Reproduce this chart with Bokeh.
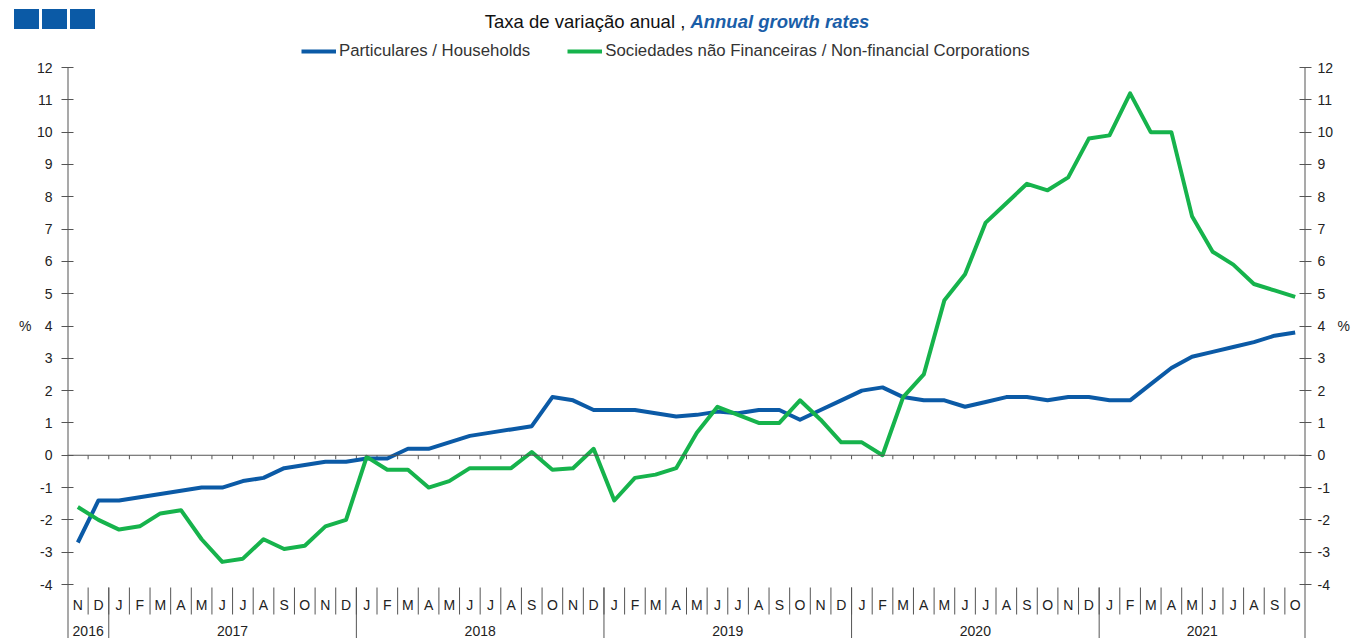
from bokeh.plotting import figure
from bokeh.models import (Range1d, LinearAxis, FixedTicker, Span, Legend, LegendItem,
                          ColumnDataSource, Div)
from bokeh.layouts import column
from bokeh.core.properties import value
from bokeh.embed import file_html
from bokeh.resources import INLINE

# ---------------- data ----------------
year_labels = ["2016", "2017", "2018", "2019", "2020", "2021"]
year_months = [
    ["N", "D"],
    ["J", "F", "M", "A", "M", "J", "J", "A", "S", "O", "N", "D"],
    ["J", "F", "M", "A", "M", "J", "J", "A", "S", "O", "N", "D"],
    ["J", "F", "M", "A", "M", "J", "J", "A", "S", "O", "N", "D"],
    ["J", "F", "M", "A", "M", "J", "J", "A", "S", "O", "N", "D"],
    ["J", "F", "M", "A", "M", "J", "J", "A", "S", "O"],
]
households = [
    -2.7, -1.4,
    -1.4, -1.3, -1.2, -1.1, -1.0, -1.0, -0.8, -0.7, -0.4, -0.3, -0.2, -0.2,
    -0.1, -0.1, 0.2, 0.2, 0.4, 0.6, 0.7, 0.8, 0.9, 1.8, 1.7, 1.4,
    1.4, 1.4, 1.3, 1.2, 1.25, 1.35, 1.3, 1.4, 1.4, 1.1, 1.4, 1.7,
    2.0, 2.1, 1.8, 1.7, 1.7, 1.5, 1.65, 1.8, 1.8, 1.7, 1.8, 1.8,
    1.7, 1.7, 2.2, 2.7, 3.05, 3.2, 3.35, 3.5, 3.7, 3.8,
]
corporations = [
    -1.6, -2.0,
    -2.3, -2.2, -1.8, -1.7, -2.6, -3.3, -3.2, -2.6, -2.9, -2.8, -2.2, -2.0,
    -0.05, -0.45, -0.45, -1.0, -0.8, -0.4, -0.4, -0.4, 0.1, -0.45, -0.4, 0.2,
    -1.4, -0.7, -0.6, -0.4, 0.7, 1.5, 1.25, 1.0, 1.0, 1.7, 1.1, 0.4,
    0.4, 0.0, 1.8, 2.5, 4.8, 5.6, 7.2, 7.8, 8.4, 8.2, 8.6, 9.8,
    9.9, 11.2, 10.0, 10.0, 7.4, 6.3, 5.9, 5.3, 5.1, 4.9,
]
y_ticks = list(range(-4, 13))
y_unit_label = "%"
y_unit_at = 4
series_names = ["Particulares / Households",
                "Sociedades não Financeiras / Non-financial Corporations"]

# ---------------- derived positions ----------------
month_letters = [m for ms in year_months for m in ms]
n = len(month_letters)
xs = list(range(n))
month_bounds = [i - 0.5 for i in range(n + 1)]
year_bounds = [-0.5]
year_centers = []
start = 0
for ms in year_months:
    end = start + len(ms)
    year_centers.append((start + end - 1) / 2)
    year_bounds.append(end - 0.5)
    start = end

Y_MIN, Y_MAX = min(y_ticks), max(y_ticks)
PX = (584 - 67) / (Y_MAX - Y_MIN)           # pixels per unit
Y_TOP = Y_MAX + 29 / PX                      # room for legend
Y_BOT = Y_MIN - 54 / PX                      # room for month / year rows
MONTH_Y = Y_MIN - 20 / PX
YEAR_Y = Y_MIN - 46 / PX
SEP_TOP = Y_MIN - 3 / PX
SEP_MONTH_BOT = Y_MIN - 30 / PX
TICK_LEN = 4 / PX

BLUE = "#0b5aa6"
GREEN = "#16b34c"
FONT = "Liberation Sans"
AX = "#555555"
TXT = "#222222"

src = ColumnDataSource(dict(x=xs, hh=households, nfc=corporations))

p = figure(width=1354, height=600, x_range=Range1d(-0.5, n - 0.5), y_range=Range1d(Y_BOT, Y_TOP),
           x_axis_type=None, y_axis_type=None, output_backend="svg", toolbar_location=None,
           min_border_left=67, min_border_right=49, min_border_top=0, min_border_bottom=0)
p.outline_line_color = None
p.background_fill_color = "white"
p.border_fill_color = "white"

def y_axis(standoff):
    return LinearAxis(ticker=FixedTicker(ticks=y_ticks, minor_ticks=[]),
                      major_label_overrides={t: str(t) for t in y_ticks},
                      major_label_text_font=FONT, major_label_text_font_size="14px",
                      major_label_text_color=TXT, major_label_standoff=standoff,
                      major_tick_in=6, major_tick_out=6, minor_tick_line_color=None,
                      axis_line_color=None, major_tick_line_color=AX)

def unit_axis(standoff):
    return LinearAxis(ticker=FixedTicker(ticks=[y_unit_at], minor_ticks=[]),
                      major_label_overrides={y_unit_at: y_unit_label},
                      major_label_text_font=FONT, major_label_text_font_size="14px",
                      major_label_text_color=TXT, major_label_standoff=standoff,
                      major_tick_in=0, major_tick_out=0, major_tick_line_color=None,
                      minor_tick_line_color=None, axis_line_color=None)

p.add_layout(y_axis(9), "left")
p.add_layout(unit_axis(2), "left")
p.add_layout(y_axis(6), "right")
p.add_layout(unit_axis(1), "right")

# vertical frame lines (left / right) from top tick to bottom
edges = [year_bounds[0], year_bounds[-1]]
p.segment(x0=edges, y0=[Y_MAX] * 2, x1=edges, y1=[Y_BOT] * 2, line_color=AX, line_width=2)

# zero line with month ticks
p.add_layout(Span(location=0, dimension="width", line_color=AX, line_width=1))
inner_bounds = month_bounds[1:-1]
p.segment(x0=inner_bounds, y0=[0] * len(inner_bounds), x1=inner_bounds,
          y1=[-TICK_LEN] * len(inner_bounds), line_color=AX, line_width=1)

# month separators and labels
p.segment(x0=inner_bounds, y0=[SEP_TOP] * len(inner_bounds), x1=inner_bounds,
          y1=[SEP_MONTH_BOT] * len(inner_bounds), line_color=AX, line_width=1)
p.text(x=xs, y=[MONTH_Y] * n, text=month_letters, text_align="center", text_baseline="middle",
       text_font=value(FONT), text_font_size="14px", text_color=TXT)

# year separators and labels
inner_years = year_bounds[1:-1]
p.segment(x0=inner_years, y0=[SEP_TOP] * len(inner_years), x1=inner_years,
          y1=[Y_BOT] * len(inner_years), line_color=AX, line_width=1)
p.text(x=year_centers, y=[YEAR_Y] * len(year_centers), text=year_labels, text_align="center",
       text_baseline="middle", text_font=value(FONT), text_font_size="14px", text_color=TXT)

r1 = p.line("x", "hh", source=src, line_color=BLUE, line_width=4, line_join="round")
r2 = p.line("x", "nfc", source=src, line_color=GREEN, line_width=4, line_join="round")

legend = Legend(items=[LegendItem(label=series_names[0], renderers=[r1]),
                       LegendItem(label=series_names[1], renderers=[r2])],
                orientation="horizontal", location=(234, 577),
                border_line_color=None, background_fill_alpha=0,
                label_text_font=FONT, label_text_font_size="16.8px", label_text_color="#333333",
                glyph_width=35, glyph_height=18, label_standoff=3, spacing=37,
                padding=2, margin=0)
p.add_layout(legend)

header = Div(text=(
    '<div style="position:relative;width:1354px;height:38px;font-family:\'Liberation Sans\',Arial,sans-serif;">'
    '<div style="position:absolute;left:14px;top:9px;width:25px;height:20px;background:#0b5aa6"></div>'
    '<div style="position:absolute;left:42px;top:9px;width:25px;height:20px;background:#0b5aa6"></div>'
    '<div style="position:absolute;left:70px;top:9px;width:25px;height:20px;background:#0b5aa6"></div>'
    '<div style="position:absolute;left:0px;top:9px;width:1354px;text-align:center;font-size:18.5px;color:#111;white-space:nowrap">'
    'Taxa de variação anual , <span style="color:#1a5ea8;font-weight:bold;font-style:italic">Annual growth rates</span>'
    '</div></div>'), width=1354, height=38, margin=(0, 0, 0, 0))

layout = column(header, p, spacing=0)
open("out.html", "w").write(file_html(layout, INLINE))
